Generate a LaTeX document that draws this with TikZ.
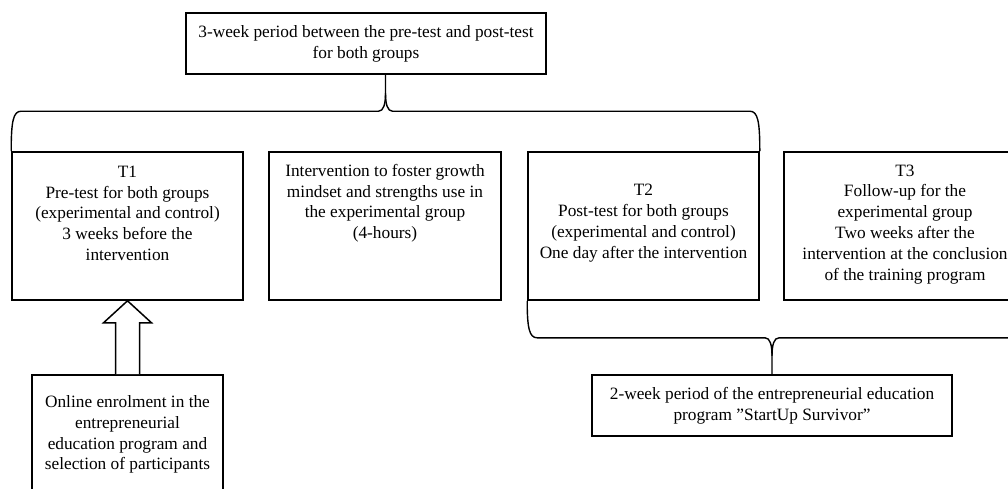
\documentclass[tikz,border=0pt]{standalone}
\usepackage{fontspec}
\setmainfont{Liberation Serif}
\usetikzlibrary{calc}
\begin{document}
\begin{tikzpicture}[x=1pt,y=-1pt,
  box/.style={draw=black, line width=1.6pt, fill=white, inner sep=0pt},
  txt/.style={align=center, inner sep=0pt, font=\fontsize{17.3}{20.8}\selectfont},
  brace/.style={draw=black, line width=1.4pt, line join=round},
  blockarrow/.style={draw=black, line width=1.5pt, fill=white, line join=miter}]
\useasboundingbox (0,0) rectangle (1008,488);
% boxes
\node[box, minimum width=360pt, minimum height=61pt] (top) at (366,43.5) {};
\node[box, minimum width=231pt, minimum height=148pt] (t1) at (127.5,226) {};
\node[box, minimum width=232pt, minimum height=148pt] (iv) at (385,226) {};
\node[box, minimum width=231pt, minimum height=148pt] (t2) at (643.5,226) {};
\node[box, minimum width=242pt, minimum height=148pt] (t3) at (905,226) {};
\node[box, minimum width=191pt, minimum height=119pt] (online) at (127.5,434.5) {};
\node[box, minimum width=360pt, minimum height=61pt] (twoweek) at (772,405.5) {};
% texts
\node[txt] (toptxt) at (top.center) {3-week period between the pre-test and post-test\\for both groups};
\node[txt] (t1txt) at ($(t1.north)+(0,62)$) {T1\\Pre-test for both groups\\(experimental and control)\\3 weeks before the\\intervention};
\node[txt] (ivtxt) at ($(iv.north)+(0,52)$) {Intervention to foster growth\\mindset and strengths use in\\the experimental group\\(4-hours)};
\node[txt] (t2txt) at ($(t2.north)+(0,72)$) {T2\\Post-test for both groups\\(experimental and control)\\One day after the intervention};
\node[txt] (t3txt) at ($(t3.north)+(0,73)$) {T3\\Follow-up for the\\experimental group\\Two weeks after the\\intervention at the conclusion\\of the training program};
\node[txt] (onlinetxt) at (online.center) {Online enrolment in the\\entrepreneurial\\education program and\\selection of participants};
\node[txt] (twoweektxt) at (twoweek.center) {2-week period of the entrepreneurial education\\program \char34 StartUp Survivor\char34};
% top brace
\coordinate (ta) at ($(t1.north west)!0.5!(t2.north east)$);
\coordinate (tt) at (ta |- top.south);
\draw[brace] (t1.north west) .. controls ($(t1.north west)+(0,-30)$) and ($(t1.north west)+(2,-40)$) .. ($(t1.north west)+(10,-40)$)
  -- ($(ta)+(-7,-40)$) .. controls ($(ta)+(-2,-40)$) and ($(ta)+(0,-47)$) .. ($(ta)+(0,-58)$) -- (tt);
\draw[brace] ($(ta)+(0,-58)$) .. controls ($(ta)+(0,-47)$) and ($(ta)+(2,-40)$) .. ($(ta)+(7,-40)$)
  -- ($(t2.north east)+(-10,-40)$) .. controls ($(t2.north east)+(-2,-40)$) and ($(t2.north east)+(0,-30)$) .. (t2.north east);
% lower brace
\coordinate (lb) at (twoweek.north |- t2.south);
\draw[brace] (t2.south west) .. controls ($(t2.south west)+(0,27)$) and ($(t2.south west)+(2,37)$) .. ($(t2.south west)+(10,37)$)
  -- ($(lb)+(-7,37)$) .. controls ($(lb)+(-2,37)$) and ($(lb)+(0,44)$) .. ($(lb)+(0,55)$) -- (twoweek.north);
\draw[brace] ($(lb)+(0,55)$) .. controls ($(lb)+(0,44)$) and ($(lb)+(2,37)$) .. ($(lb)+(7,37)$)
  -- ($(t3.south east)+(-10,37)$) .. controls ($(t3.south east)+(-2,37)$) and ($(t3.south east)+(0,27)$) .. (t3.south east);
% block arrow
\draw[blockarrow] ($(online.north)+(-12,0)$) -- ($(t1.south)+(-12,22)$) -- ($(t1.south)+(-24,22)$) -- (t1.south)
  -- ($(t1.south)+(24,22)$) -- ($(t1.south)+(12,22)$) -- ($(online.north)+(12,0)$);
\end{tikzpicture}
\end{document}
